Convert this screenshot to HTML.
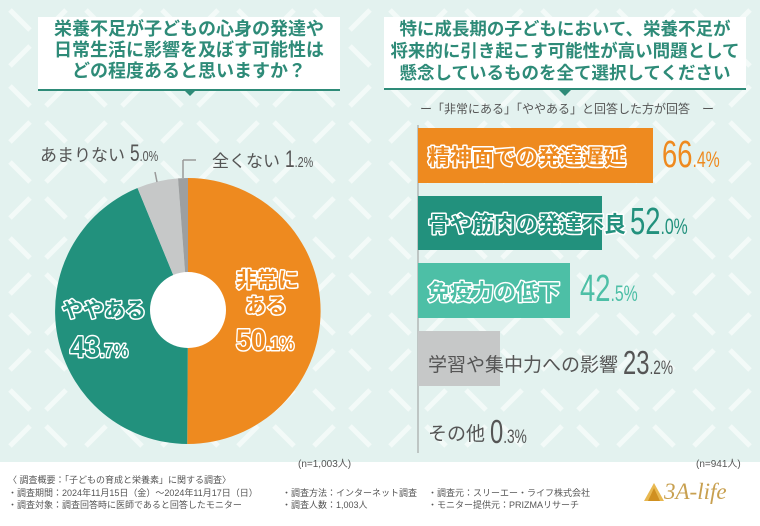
<!DOCTYPE html>
<html><head><meta charset="utf-8"><style>
body{margin:0;width:760px;height:526px;overflow:hidden;background:#e3f2ef;font-family:"Liberation Sans","Noto Sans CJK JP",sans-serif;position:relative}
.a{position:absolute;white-space:nowrap}
.box{position:absolute;background:#fff;border-bottom:2px solid #2e8b78;color:#2e8b78;font-weight:bold;text-align:center;white-space:nowrap}
.n{display:inline-block;transform:scaleX(.72);transform-origin:left center;margin-right:-10px}
</style></head><body>
<svg class="a" style="left:0;top:0" width="760" height="526">
<defs><pattern id="p" width="76" height="76" patternUnits="userSpaceOnUse">
<path d="M10 10 L30 30 M66 10 L46 30 M10 66 L30 46 M66 66 L46 46" stroke="#f3faf8" stroke-width="5" fill="none"/></pattern></defs>
<rect width="760" height="462" fill="url(#p)"/>
<rect y="462" width="760" height="64" fill="#fff"/>
<path d="M188 311 L188 178 A133 133 0 0 1 187.2 444 Z" fill="#ee8a1f"/>
<path d="M188 311 L187.2 444 A133 133 0 0 1 137.5 188 Z" fill="#22917d"/>
<path d="M188 311 L137.5 188 A133 133 0 0 1 178 178.4 Z" fill="#c6c8c8"/>
<path d="M188 311 L178 178.4 A133 133 0 0 1 188 178 Z" fill="#9d9fa0"/>
<circle cx="188" cy="310" r="38" fill="#fff"/>
<path d="M155 172 L157 182" stroke="#999" stroke-width="1.5"/>
<path d="M183 160 L183 178 M183 160 L196 160" stroke="#999" stroke-width="1.5" fill="none"/>
<line x1="418" y1="125" x2="418" y2="453" stroke="#999" stroke-width="1"/>
<rect x="418" y="128" width="235" height="55" fill="#ee8a1f"/>
<rect x="418" y="196" width="184" height="54" fill="#22917d"/>
<rect x="418" y="263" width="152" height="55" fill="#4dbfa6"/>
<rect x="418" y="331" width="82" height="55" fill="#c6c8c8"/>
<polygon points="182,88 198,88 190,96" fill="#2e8b78"/>
<polygon points="557,88 573,88 565,96" fill="#2e8b78"/>
<g font-family="Liberation Sans, Noto Sans CJK JP, sans-serif" font-weight="bold" stroke="#fff" stroke-width="3" paint-order="stroke" stroke-linejoin="round">
<text x="236" y="287" font-size="21" fill="#ee8a1f">非常に</text>
<text x="245" y="313" font-size="21" fill="#ee8a1f">ある</text>
<text x="236" y="350" font-size="30" fill="#ee8a1f" textLength="58" lengthAdjust="spacingAndGlyphs">50<tspan font-size="18">.1%</tspan></text>
<text x="62" y="317" font-size="21" fill="#22917d">ややある</text>
<text x="70" y="357" font-size="30" fill="#22917d" textLength="58" lengthAdjust="spacingAndGlyphs">43<tspan font-size="18">.7%</tspan></text>
<text x="428" y="165" font-size="22" fill="#ee8a1f">精神面での発達遅延</text>
<text x="428" y="232" font-size="22" fill="#22917d">骨や筋肉の発達不良</text>
<text x="428" y="300" font-size="22" fill="#4dbfa6">免疫力の低下</text>
</g>
</svg>
<div class="box" style="left:38px;top:17px;width:302px;height:70px;font-size:18px;line-height:21px;padding-top:2px">栄養不足が子どもの心身の発達や<br>日常生活に影響を及ぼす可能性は<br>どの程度あると思いますか？</div>
<div class="box" style="left:384px;top:17px;width:362px;height:70px;font-size:17.5px;line-height:22px;padding-top:1px">特に成長期の子どもにおいて、栄養不足が<br>将来的に引き起こす可能性が高い問題として<br>懸念しているものを全て選択してください</div>
<div class="a" style="left:420px;top:100px;font-size:12px;color:#555">ー「非常にある」「ややある」と回答した方が回答　ー</div>
<div class="a" style="left:40px;top:140px;font-size:17px;color:#555">あまりない <span class="n"><span style="font-size:24px">5</span><span style="font-size:15px">.0%</span></span></div>
<div class="a" style="left:212px;top:146px;font-size:17px;color:#555">全くない <span class="n"><span style="font-size:24px">1</span><span style="font-size:15px">.2%</span></span></div>
<div class="a" style="left:662px;top:134px;color:#ee8a1f"><span class="n"><span style="font-size:38px">66</span><span style="font-size:22px">.4%</span></span></div>
<div class="a" style="left:630px;top:201px;color:#22917d"><span class="n"><span style="font-size:38px">52</span><span style="font-size:22px">.0%</span></span></div>
<div class="a" style="left:580px;top:268px;color:#4dbfa6"><span class="n"><span style="font-size:38px">42</span><span style="font-size:22px">.5%</span></span></div>
<div class="a" style="left:428px;top:344px;font-size:19px;color:#555">学習や集中力への影響 <span class="n" style="vertical-align:-3px"><span style="font-size:33px">23</span><span style="font-size:19px">.2%</span></span></div>
<div class="a" style="left:428px;top:413px;font-size:19px;color:#555">その他 <span class="n" style="vertical-align:-3px"><span style="font-size:33px">0</span><span style="font-size:19px">.3%</span></span></div>
<div class="a" style="left:298px;top:455px;font-size:10px;color:#555">(n=1,003人)</div>
<div class="a" style="left:696px;top:455px;font-size:10px;color:#555">(n=941人)</div>
<div class="a" style="left:8px;top:474px;font-size:9px;line-height:12.5px;color:#555">〈 調査概要：「子どもの育成と栄養素」に関する調査〉<br>・調査期間：2024年11月15日（金）～2024年11月17日（日）<br>・調査対象：調査回答時に医師であると回答したモニター</div>
<div class="a" style="left:282px;top:486.5px;font-size:9px;line-height:12.5px;color:#555">・調査方法：インターネット調査<br>・調査人数：1,003人</div>
<div class="a" style="left:428px;top:486.5px;font-size:9px;line-height:12.5px;color:#555">・調査元：スリーエー・ライフ株式会社<br>・モニター提供元：PRIZMAリサーチ</div>
<svg class="a" style="left:643px;top:482px" width="22" height="20"><polygon points="11,1 21,19 1,19" fill="#e8b850"/><polygon points="11,6 17,19 5,19" fill="#d09020"/></svg>
<div class="a" style="left:664px;top:479px;font-family:'Liberation Serif',serif;font-style:italic;font-size:23px;color:#c8a050">3A-life</div>
</body></html>
